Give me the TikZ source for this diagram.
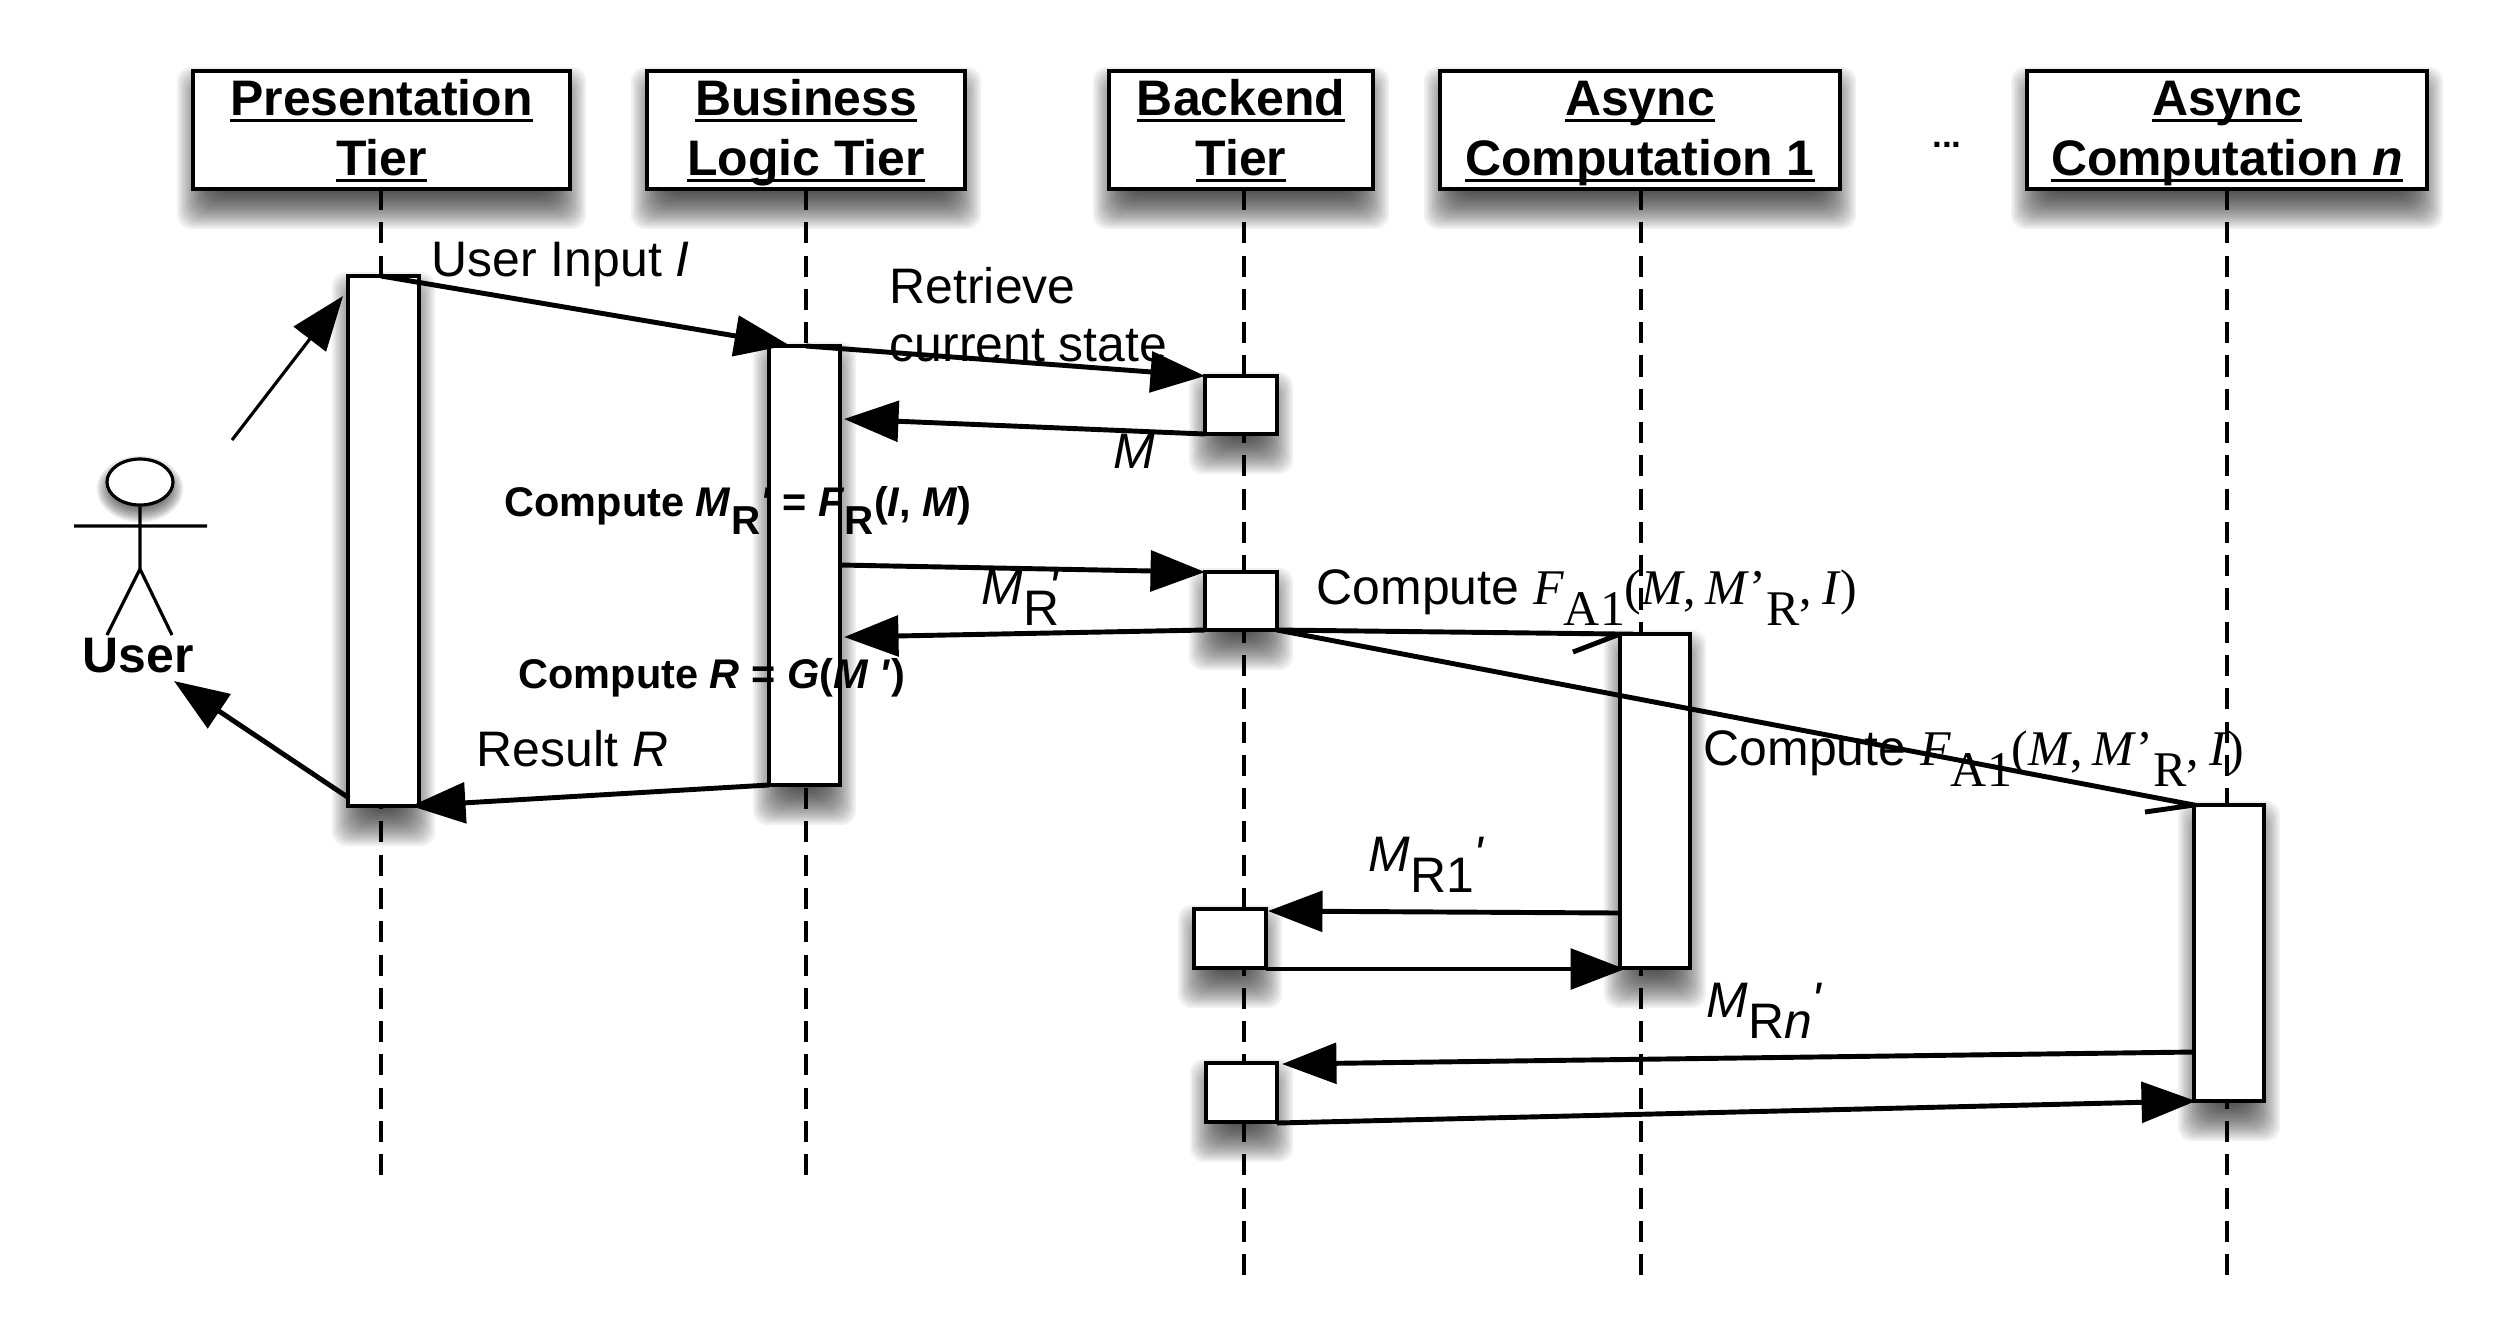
\documentclass[tikz,border=0pt]{standalone}
\usepackage{fontspec}
\setmainfont{Liberation Sans}
\newfontfamily\timesfam{Liberation Serif}
\usetikzlibrary{arrows.meta,shapes.geometric}
% drawn in pixels of the reference
\tikzset{
  x=0.1mm,y=-0.1mm,
  headbox/.style={draw,fill=white,line width=1.2pt,inner sep=0pt,align=center,font=\fontsize{14.2pt}{17pt}\selectfont\bfseries},
  lifeline/.style={dashed,dash pattern=on 6pt off 3.47pt,line width=.95pt},
  msg/.style={line width=1.4pt,-{Triangle[length=15.5pt,width=11.5pt]}},
  thinmsg/.style={line width=.9pt,-{Triangle[length=15.5pt,width=11.5pt]}},
  halfmsg/.style={line width=1.4pt},
  stick/.style={line width=.9pt},
  lbl/.style={anchor=base west,inner sep=0pt,font=\fontsize{14.2pt}{16.6pt}\selectfont},
  smallbold/.style={anchor=base west,inner sep=0pt,font=\fontsize{11.8pt}{13pt}\selectfont\bfseries},
}
% shadow, then box: name, x1, y1, x2, y2, text
\newcommand\shadowbox[6]{
  \foreach \r in {22,20,...,-14}
    \fill[black,opacity=.055,rounded corners=4pt] (#2-\r+6,#3+18-\r) rectangle (#4+\r-6,#5+18+\r);
  \node[headbox,minimum width={(#4-#2)*0.1mm},minimum height={(#5-#3)*0.1mm}] (#1) at ({(#2+#4)/2},{(#3+#5)/2}) {#6};
}
\newcommand\hdr[1]{\leavevmode\rule[-3.2pt]{0pt}{15.2pt}\setbox0=\hbox{#1}\rlap{\rule[-1.8pt]{\wd0}{.8pt}}\box0 }
\newcommand\lowtxt[1]{\raisebox{-6pt}{#1}}
\newcommand\lowbold[1]{\raisebox{-5.2pt}{\fontsize{11.5pt}{12pt}\selectfont #1}}
\newcommand\prm{\textit{\textquotesingle}}
\newcommand\fcall{\timesfam\textit{F}\lowtxt{A1}(\textit{M},\hspace{2.9pt}\textit{M}’\lowtxt{R},\hspace{2.9pt}\textit{I})}
\begin{document}
\begin{tikzpicture}[line cap=butt,line join=miter]
  \useasboundingbox (0,0) rectangle (2512,1320);

  % lifelines, ends
  \path (381,1177) coordinate (presend) (806,1177) coordinate (bizend)
        (1244,1275) coordinate (backend) (1641,1275) coordinate (asyncaend)
        (2227,1275) coordinate (asyncnend);
  \coordinate (presh) at (381,189);
  \coordinate (bizh) at (806,189);
  \coordinate (backh) at (1244,189);
  \coordinate (asyncah) at (1641,189);
  \coordinate (asyncnh) at (2227,189);
  \draw[lifeline] (presh)--(presend) (bizh)--(bizend) (backh)--(backend)
        (asyncah)--(asyncaend) (asyncnh)--(asyncnend);

  % head boxes
  \shadowbox{pres}{193}{71}{570}{189}{\hdr{Presentation}\\\hdr{Tier}}
  \shadowbox{biz}{647}{71}{965}{189}{\hdr{Business}\\\hdr{Logic Tier}}
  \shadowbox{back}{1109}{71}{1373}{189}{\hdr{Backend}\\\hdr{Tier}}
  \shadowbox{asynca}{1440}{71}{1840}{189}{\hdr{Async}\\\hdr{Computation 1}}
  \shadowbox{asyncn}{2027}{71}{2427}{189}{\hdr{Async}\\\hdr{Computation \textit{n}}}
  \node[anchor=base,inner sep=0pt,font=\fontsize{10pt}{12pt}\selectfont\bfseries] (dots) at (1947,147) {...};

  % activation bars
  \shadowbox{presbar}{348}{276}{419}{806}{}
  \shadowbox{bizbar}{769}{346}{840}{785}{}
  \shadowbox{backa}{1205}{376}{1277}{434}{}
  \shadowbox{backb}{1205}{572}{1277}{630}{}
  \shadowbox{asyncabar}{1620}{634}{1690}{968}{}
  \shadowbox{asyncnbar}{2194}{805}{2264}{1101}{}
  \shadowbox{backc}{1194}{909}{1266}{968}{}
  \shadowbox{backd}{1206}{1063}{1277}{1122}{}

  % actor
  \foreach \r in {10,8,...,-6}
    \fill[black,opacity=.09] (140,482+7) ellipse ({33+\r} and {23+\r});
  \node[draw,fill=white,line width=.9pt,ellipse,inner sep=0pt,minimum width=66*0.1mm,minimum height=46*0.1mm] (head) at (140,482) {};
  \path (140,569) coordinate (hip) (74,526) coordinate (arml) (207,526) coordinate (armr)
        (140,526) coordinate (neck) (107,635) coordinate (legl) (172,635) coordinate (legr);
  \draw[stick] (head.south)--(neck)--(hip) (arml)--(armr) (legl)--(hip)--(legr);
  \node[anchor=base,inner sep=0pt,font=\fontsize{14.2pt}{16pt}\selectfont\bfseries] (user) at (138,672) {User};

  % message ends
  \path (232,440) coordinate (ua) (343,296) coordinate (ub)
        (381,276) coordinate (ia) (789,345) coordinate (ib)
        (806,346) coordinate (ra) (1205,376) coordinate (rb)
        (1205,434) coordinate (ma) (844,419) coordinate (mb)
        (840,565) coordinate (sa) (1205,572) coordinate (sb)
        (1205,630) coordinate (ga) (844,637) coordinate (gb)
        (769,785) coordinate (za) (411,806) coordinate (zb)
        (349,798) coordinate (oa) (174,681) coordinate (ob)
        (1277,630) coordinate (fa) (1620,634) coordinate (fb) (1573,652) coordinate (fc)
        (2194,805) coordinate (na) (2145,812) coordinate (nb)
        (1620,913) coordinate (pa) (1268,911) coordinate (pb)
        (1266,969) coordinate (qa) (1625,969) coordinate (qb)
        (2194,1052) coordinate (va) (1282,1064) coordinate (vb)
        (1277,1123) coordinate (wa) (2196,1101) coordinate (wb);

  \draw[thinmsg] (ua)--(ub);
  \draw[msg] (ia)--(ib);
  \draw[msg] (ra)--(rb);
  \draw[msg] (ma)--(mb);
  \draw[msg] (sa)--(sb);
  \draw[msg] (ga)--(gb);
  \draw[msg] (za)--(zb);
  \draw[msg] (oa)--(ob);
  \draw[halfmsg] (fa)--(fb)--(fc);
  \draw[halfmsg] (fa)--(na)--(nb);
  \draw[msg] (pa)--(pb);
  \draw[msg] (qa)--(qb);
  \draw[msg] (va)--(vb);
  \draw[msg] (wa)--(wb);

  % labels
  \node[lbl] (input) at (431,276) {User Input \textit{I}};
  \node[lbl] (retr) at (889,303) {Retrieve};
  \node[lbl] (cur) at (889,361) {current state};
  \node[lbl] (lm) at (1113,468) {\textit{M}};
  \node[smallbold] (cmr) at (504,516) {Compute \textit{M}\lowbold{R}\prm\ = \textit{F}\lowbold{R}(\textit{I}, \textit{M})};
  \node[smallbold] (cr) at (518,688) {Compute \textit{R} = \textit{G}(\textit{M} \prm)};
  \node[lbl] (lmr) at (981,604) {\textit{M}\lowtxt{R}\hspace{-3pt}\prm};
  \node[lbl] (res) at (476,766) {Result \textit{R}};
  \node[lbl] (cfa) at (1316,604) {Compute \fcall};
  \node[lbl] (cfn) at (1703,765) {Compute \fcall};
  \node[lbl] (lmra) at (1368,871) {\textit{M}\lowtxt{R1} \hspace{-4pt}\prm};
  \node[lbl] (lmrn) at (1706,1017) {\textit{M}\lowtxt{R\textit{n}} \hspace{-4pt}\prm};
\end{tikzpicture}
\end{document}
